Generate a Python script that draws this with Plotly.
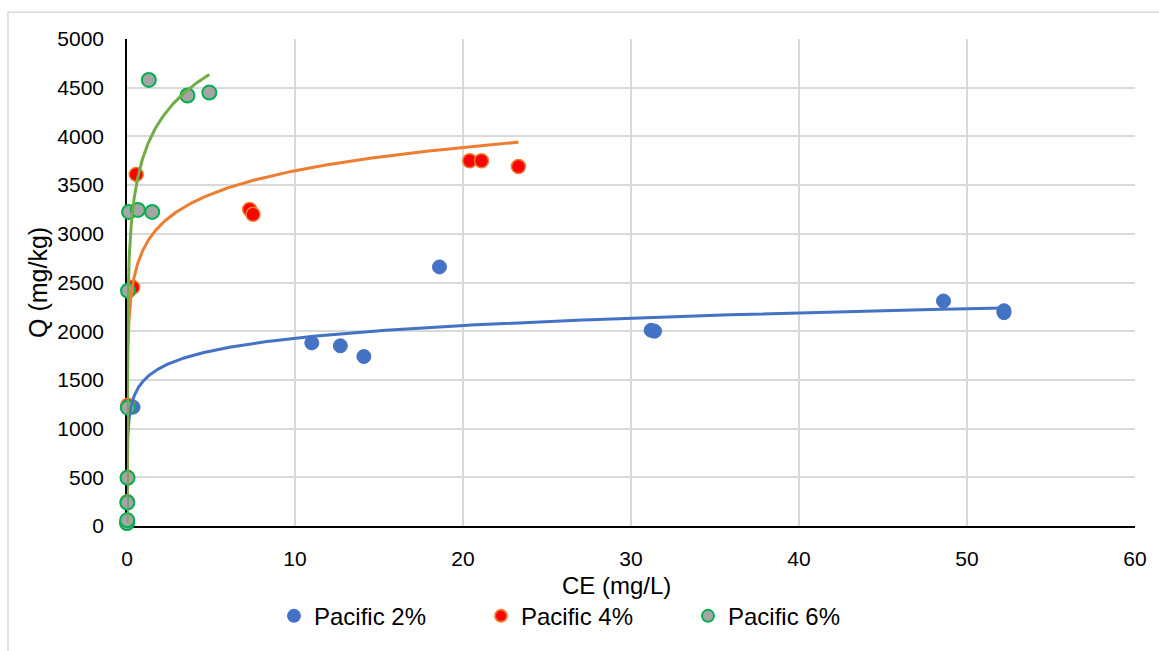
import numpy as np
import plotly.graph_objects as go

# ---- data ----
p2_ce = [0.0007, 0.02, 0.03, 0.36, 11.0, 12.7, 14.1, 18.6, 31.2, 31.4, 48.6, 52.2, 52.2]
p2_q = [30, 250, 500, 1220, 1880, 1850, 1740, 2660, 2010, 2000, 2310, 2190, 2210]

p4_ce = [0.0007, 0.02, 0.03, 0.05, 0.34, 0.55, 7.3, 7.5, 20.4, 21.1, 23.3]
p4_q = [30, 250, 500, 1240, 2450, 3610, 3250, 3200, 3750, 3750, 3690]

p6_ce = [0.0007, 0.01, 0.02, 0.03, 0.05, 0.06, 0.12, 0.65, 1.5, 1.3, 3.6, 4.9]
p6_q = [30, 60, 240, 495, 1215, 2415, 3225, 3245, 3225, 4580, 4420, 4450]

# logarithmic trendline coefficients  Q = a*ln(CE) + b
trend_a = {"Pacific 2%": 188, "Pacific 4%": 346, "Pacific 6%": 520}
trend_b = {"Pacific 2%": 1495, "Pacific 4%": 2851, "Pacific 6%": 3810}

x_ticks = [0, 10, 20, 30, 40, 50, 60]
y_ticks = [0, 500, 1000, 1500, 2000, 2500, 3000, 3500, 4000, 4500, 5000]

FONT = "Liberation Sans, Arial, sans-serif"

series = [
    ("Pacific 2%", p2_ce, p2_q, "#4472C4", "#4472C4", 1, "#4472C4"),
    ("Pacific 4%", p4_ce, p4_q, "#FF0000", "#ED7D31", 1.5, "#ED7D31"),
    ("Pacific 6%", p6_ce, p6_q, "#A5A5A5", "#00B050", 2, "#70AD47"),
]

fig = go.Figure()
for name, xs, ys, fill, edge, lw, _ in series:
    fig.add_trace(go.Scatter(
        x=xs, y=ys, mode="markers", name=name, cliponaxis=False,
        marker=dict(size=14, color=fill, line=dict(color=edge, width=lw)),
    ))
for name, xs, ys, _, _, _, tcol in series:
    tx = np.geomspace(min(xs), max(xs), 600)
    ty = trend_a[name] * np.log(tx) + trend_b[name]
    fig.add_trace(go.Scatter(
        x=tx, y=ty, mode="lines", showlegend=False, hoverinfo="skip",
        cliponaxis=False, line=dict(color=tcol, width=3),
    ))

L, R, T, B = 127, 24, 39, 121
W, H = 1159, 651
pw = W - L - R
ph = H - T - B

def px_x(px):
    return (px - L) / pw

def px_y(py):
    return (H - B - py) / ph

fig.update_layout(
    width=W, height=H,
    margin=dict(l=L, r=R, t=T, b=B),
    paper_bgcolor="white", plot_bgcolor="white",
    font=dict(family=FONT, color="black", size=20),
    xaxis=dict(
        range=[0, 60], tickvals=x_ticks, ticktext=[str(v) for v in x_ticks],
        showgrid=True, gridcolor="#D9D9D9", gridwidth=1.5,
        zeroline=False, showline=True, linecolor="black", linewidth=1.5,
        ticks="", tickfont=dict(size=21, family=FONT, color="black"),
        ticklabelstandoff=13, layer="below traces",
    ),
    yaxis=dict(
        range=[0, 5000], tickvals=y_ticks, ticktext=[str(v) for v in y_ticks],
        showgrid=True, gridcolor="#D9D9D9", gridwidth=1.5,
        zeroline=False, showline=True, linecolor="black", linewidth=1.5,
        ticks="", tickfont=dict(size=21, family=FONT, color="black"),
        ticklabelstandoff=17, layer="below traces",
    ),
    showlegend=True,
    legend=dict(
        orientation="h", x=px_x(274), xanchor="left", y=px_y(621), yanchor="middle",
        font=dict(size=24, family=FONT, color="black"),
        bgcolor="rgba(0,0,0,0)", entrywidth=162, itemsizing="constant",
    ),
    annotations=[
        dict(text="CE (mg/L)", x=px_x(616), y=px_y(590), xref="paper", yref="paper",
             showarrow=False, xanchor="center", yanchor="middle",
             font=dict(size=24, family=FONT, color="black")),
        dict(text="Q (mg/kg)", x=px_x(38), y=px_y(285), xref="paper", yref="paper",
             showarrow=False, xanchor="center", yanchor="middle", textangle=-90,
             font=dict(size=25, family=FONT, color="black")),
    ],
    shapes=[
        dict(type="rect", xref="paper", yref="paper",
             x0=px_x(8), x1=px_x(1170), y0=px_y(12), y1=px_y(670),
             line=dict(color="#D9D9D9", width=1.5), fillcolor="rgba(0,0,0,0)", layer="below"),
    ],
)

fig.write_html("out.html")
